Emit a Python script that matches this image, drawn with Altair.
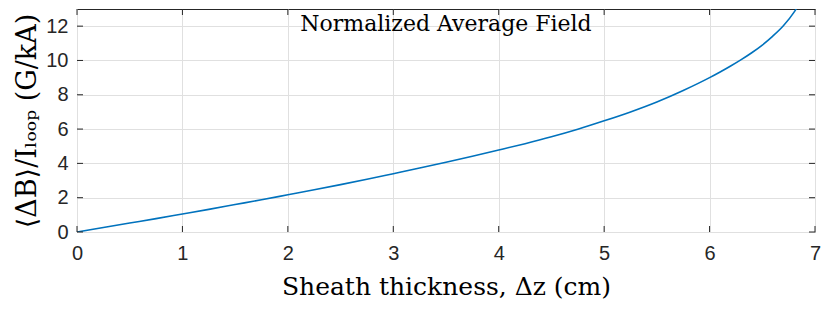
import altair as alt
import pandas as pd

# ---- data ----
x_cm = [0, 0.25, 0.5, 0.75, 1.0, 1.25, 1.5, 1.75, 2.0, 2.25, 2.5, 2.75, 3.0, 3.25, 3.5, 3.75,
        4.0, 4.25, 4.5, 4.75, 5.0, 5.25, 5.5, 5.75, 6.0, 6.1, 6.2, 6.3, 6.4, 6.5, 6.6, 6.7, 6.8, 6.85]
field = [0, 0.26, 0.52, 0.78, 1.05, 1.32, 1.60, 1.88, 2.17, 2.46, 2.76, 3.07, 3.40, 3.73, 4.07, 4.42,
         4.78, 5.15, 5.55, 5.99, 6.48, 7.00, 7.58, 8.25, 9.00, 9.33, 9.68, 10.05, 10.45, 10.90, 11.42, 12.02, 12.80, 13.30]
x_ticks = [0, 1, 2, 3, 4, 5, 6, 7]
y_ticks = [0, 2, 4, 6, 8, 10, 12]
plot_title = ["Normalized Average Field"]
x_title = "Sheath thickness, Δz (cm)"
y_title = "⟨ΔB⟩/Iₗₒₒₚ (G/kA)"

W, H = 738, 223
INK = "#262626"
SERIF = "DejaVu Serif"
SANS = "Liberation Sans"

xs = alt.Scale(domain=[0, 7], nice=False, zero=False)
ys = alt.Scale(domain=[0, 13], nice=False, zero=False)

x_axis = alt.Axis(values=x_ticks, title=x_title, labelPadding=11, titlePadding=11,
                  format="d", labelFlush=False, titleFontSize=25)
y_axis = alt.Axis(values=y_ticks, title=y_title, labelPadding=9, titlePadding=4,
                  format="d", labelFlush=False, titleFontSize=27)


def X():
    return alt.X("x:Q", scale=xs, axis=x_axis)


def Y():
    return alt.Y("y:Q", scale=ys, axis=y_axis)


curve = alt.Chart(pd.DataFrame({"x": x_cm, "y": field})).mark_line(
    color="#0072BD", strokeWidth=1.6, interpolate="monotone", clip=True
).encode(x=X(), y=Y())

xt = pd.DataFrame({"x": x_ticks})
yt = pd.DataFrame({"y": y_ticks})
tick_len = 6

ticks_bottom = alt.Chart(xt).mark_rule(color=INK, strokeWidth=1).encode(
    x=X(), y=alt.value(H), y2=alt.value(H - tick_len))
ticks_top = alt.Chart(xt).mark_rule(color=INK, strokeWidth=1).encode(
    x=X(), y=alt.value(0), y2=alt.value(tick_len))
ticks_left = alt.Chart(yt).mark_rule(color=INK, strokeWidth=1).encode(
    y=Y(), x=alt.value(0), x2=alt.value(tick_len))
ticks_right = alt.Chart(yt).mark_rule(color=INK, strokeWidth=1).encode(
    y=Y(), x=alt.value(W), x2=alt.value(W - tick_len))

title_mark = alt.Chart(pd.DataFrame({"label": plot_title})).mark_text(
    font=SERIF, fontSize=22, align="center", baseline="alphabetic", color="#000000"
).encode(x=alt.value(W / 2), y=alt.value(22), text="label:N")

chart = alt.layer(
    curve, ticks_bottom, ticks_top, ticks_left, ticks_right, title_mark
).properties(
    width=W,
    height=H,
    padding={"left": 69, "top": 1, "right": 6, "bottom": 71},
    autosize=alt.AutoSizeParams(type="none"),
    background="white",
).configure_view(
    stroke=INK, strokeWidth=1
).configure_axis(
    grid=True,
    gridColor="#e0e0e0",
    gridWidth=1,
    domain=False,
    ticks=False,
    labelFont=SANS,
    labelFontSize=20,
    labelColor=INK,
    titleFont=SERIF,
    titleFontWeight="normal",
    titleColor="#000000",
)

chart.save("out.html", embed_options={"renderer": "svg", "actions": False})
